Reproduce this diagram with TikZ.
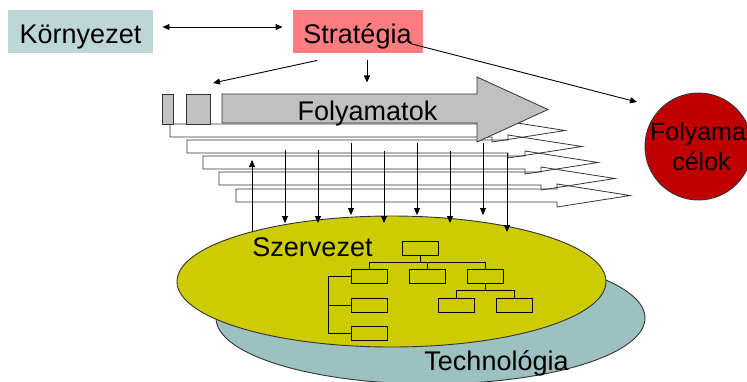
\documentclass[tikz,border=0pt]{standalone}
\usepackage{fontspec}
\setmainfont{Liberation Sans}
\usetikzlibrary{arrows.meta, shapes.geometric}

\definecolor{envcol}{HTML}{BDD7D6}
\definecolor{stratcol}{HTML}{FF7C80}
\definecolor{proccol}{HTML}{C0C0C0}
\definecolor{celcol}{HTML}{C00000}
\definecolor{orgcol}{HTML}{CCCC00}
\definecolor{techcol}{HTML}{9DC0C0}

\begin{document}
\begin{tikzpicture}[x=1pt, y=-1pt, line width=0.9pt,
  bigtext/.style={font=\fontsize{27}{32}\selectfont, anchor=base, inner sep=0pt},
  celtext/.style={font=\fontsize{25}{30}\selectfont, anchor=base, inner sep=0pt},
  topbox/.style={rectangle, minimum height=43pt, inner sep=0pt},
  orgbox/.style={draw, rectangle, minimum width=36pt, minimum height=14pt, inner sep=0pt},
  layer/.style={ellipse, draw=black!80, minimum width=429pt, inner sep=0pt},
  procarrow/.style={draw=black!80, line width=0.8pt},
  tip/.style={-{Triangle[length=7pt, width=6pt]}}]
\useasboundingbox (0,0) rectangle (747,381);

\node[layer, fill=techcol, minimum height=132pt] (tech) at (430.5,318) {};
\node[layer, fill=orgcol, minimum height=131pt] (szerv) at (391.5,281.5) {};
\node[bigtext] (techtxt) at (496.5,370) {Technológia};
\node[bigtext] (szervtxt) at (312.5,256) {Szervezet};

\node[orgbox] (org0) at (420,248) {};
\node[orgbox] (orgA) at (369,276.5) {};
\node[orgbox] (orgB) at (427.5,276.5) {};
\node[orgbox] (orgC) at (485,276.5) {};
\node[orgbox] (orgD) at (369,305) {};
\node[orgbox] (orgE) at (369,333) {};
\node[orgbox] (orgF) at (456,305) {};
\node[orgbox] (orgG) at (514,305) {};
\draw (org0.south) -- ++(0,7);
\draw (orgA.north) -- ++(0,-7) -| (orgC.north);
\draw (orgB.north) -- ++(0,-7);
\draw (orgA.west) -- ++(-22,0) |- (orgE.west);
\draw (orgD.west) -- ++(-22,0);
\draw (orgC.south) -- ++(0,7);
\draw (orgF.north) -- ++(0,-7) -| (orgG.north);

\draw[procarrow] (170,124) -- (492,124) -- (492,119) -- (565,130.5) -- (492,142) -- (492,137) -- (170,137) -- cycle;
\draw[procarrow] (187,140) -- (508,140) -- (508,135) -- (582,146.5) -- (508,158) -- (508,153) -- (187,153) -- cycle;
\draw[procarrow] (203,156) -- (525,156) -- (525,151) -- (598,162.5) -- (525,174) -- (525,169) -- (203,169) -- cycle;
\draw[procarrow] (219,172) -- (541,172) -- (541,167) -- (615,178.5) -- (541,190) -- (541,185) -- (219,185) -- cycle;
\draw[procarrow] (236,189) -- (557,189) -- (557,184) -- (630,195.5) -- (557,207) -- (557,202) -- (236,202) -- cycle;

\draw[procarrow, fill=proccol] (162,94) rectangle (173,124);
\draw[procarrow, fill=proccol] (186,94) rectangle (210,124);
\draw[procarrow, fill=proccol] (222,94) -- (477,94) -- (477,77) -- (548,109.5) -- (477,142) -- (477,123) -- (222,123) -- cycle;
\node[bigtext] (folytxt) at (367.5,120) {Folyamatok};

\foreach \x/\ya/\yb in {285/150/223, 318/150/223, 351/143/215, 384/151/223,
                        417/143/215, 450/151/223, 483/143/215, 507/153/232}
  \draw[tip] (\x,\ya) -- (\x,\yb);
\draw[tip] (252,232) -- (252,160);

\node[topbox, fill=envcol, minimum width=145pt] (korny) at (80.5,31.5) {};
\node[bigtext] (kornytxt) at (80.5,43) {Környezet};
\node[topbox, fill=stratcol, minimum width=130pt] (strat) at (358,31.5) {};
\node[bigtext] (strattxt) at (357.5,43) {Stratégia};

\node[circle, draw=black!80, fill=celcol, minimum size=107pt, inner sep=0pt] (celok) at (698.5,146.5) {};
\node[celtext] (celok1) at (701.5,140) {Folyamat};
\node[celtext] (celok2) at (701.5,170) {célok};

\draw[{Triangle[length=7pt, width=6pt]}-{Triangle[length=7pt, width=6pt]}]
  ([shift={(9,-4.5)}]korny.east) -- ([shift={(-10,-4.5)}]strat.west);
\draw[tip] ([shift={(-41,7)}]strat.south) -- (213,83);
\draw[tip] ([shift={(9,7)}]strat.south) -- ++(0,22);
\coordinate (celin) at (637,102);
\draw[tip] ([shift={(52,-10)}]strat.south) -- (celin);

\end{tikzpicture}
\end{document}
